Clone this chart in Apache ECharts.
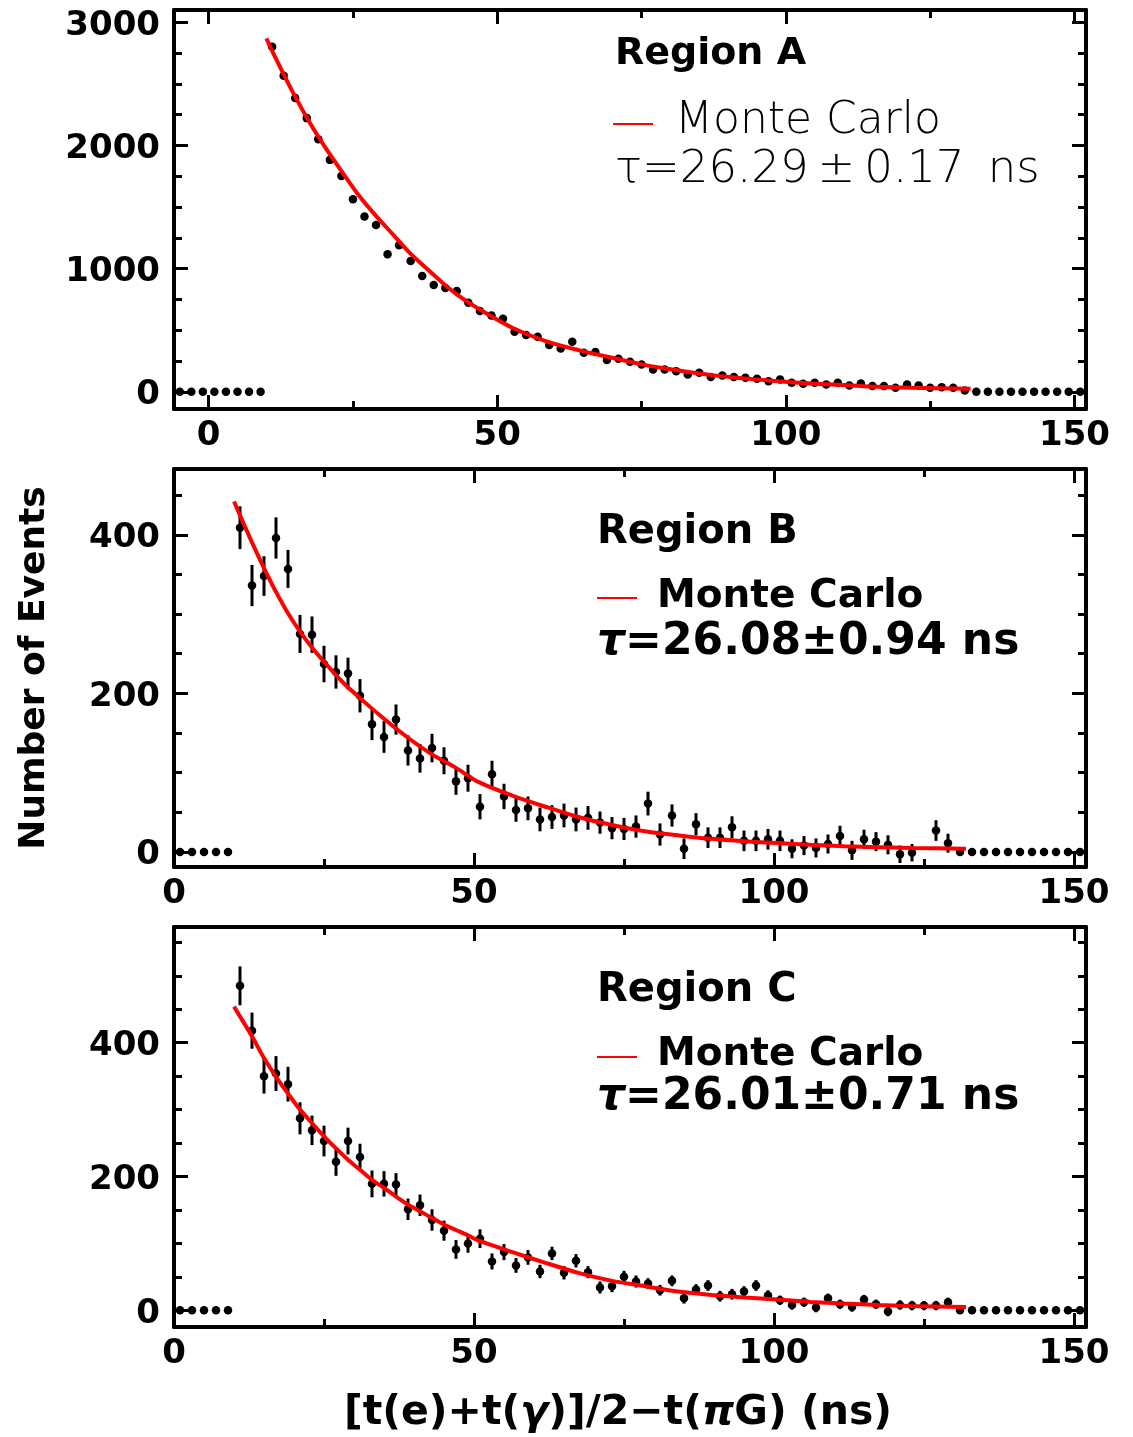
<!DOCTYPE html>
<html><head><meta charset="utf-8">
<script src="https://cdn.jsdelivr.net/npm/echarts@6/dist/echarts.min.js"></script>
<style>html,body{margin:0;padding:0;background:#fff}#c{width:1133px;height:1437px}</style>
</head><body><div id="c"></div>
<script>
// ---------- DATA ----------
const binsA = [-5,-3,-1,1,3,5,7,9,
  11,13,15,17,19,21,23,25,27,29,
  31,33,35,37,39,41,43,45,47,49,
  51,53,55,57,59,61,63,65,67,69,
  71,73,75,77,79,81,83,85,87,89,
  91,93,95,97,99,101,103,105,107,109,
  111,113,115,117,119,121,123,125,127,129,
  131,133,135,137,139,141,143,145,147,149,151];
const countsA = [0,0,0,0,0,0,0,0,
  2802,2566,2385,2222,2051,1883,1753,1563,1423,1355,
  1116,1189,1062,940,867,842,818,723,655,620,
  593,488,460,447,379,352,406,317,322,257,
  268,244,222,181,181,167,141,154,119,133,
  119,114,106,86,100,73,65,73,59,73,
  51,67,46,46,33,59,51,33,37,33,
  10,0,0,0,0,0,0,0,0,0,0];

const binsBC = [1,3,5,7,9,
  11,13,15,17,19,21,23,25,27,29,
  31,33,35,37,39,41,43,45,47,49,
  51,53,55,57,59,61,63,65,67,69,
  71,73,75,77,79,81,83,85,87,89,
  91,93,95,97,99,101,103,105,107,109,
  111,113,115,117,119,121,123,125,127,129,
  131,133,135,137,139,141,143,145,147,149,151];
const countsB = [0,0,0,0,0,
  409,336,348,396,357,275,274,237,227,225,
  197,161,145,167,128,118,131,115,89,93,
  57,98,70,53,55,41,44,46,41,43,
  37,30,29,32,61,22,46,4,35,18,
  18,31,14,14,16,14,4,8,5,10,
  20,2,16,13,9,-3,-1,null,27,11,
  0,0,0,0,0,0,0,0,0,0,0];
const errB = [0,0,0,0,0,
  27,26,25,26,24,24,23,23,21,20,
  21,20,20,19,19,18,18,17,17,17,
  16,17,16,15,15,15,15,15,15,15,
  14,14,14,14,15,14,14,13,14,13,
  13,14,13,13,13,13,12,12,12,12,
  13,12,12,12,12,11,11,0,13,12,
  0,0,0,0,0,0,0,0,0,0,0];
const countsC = [0,0,0,0,0,
  485,418,350,354,338,287,269,253,222,253,
  229,189,189,188,151,157,135,119,91,100,
  107,73,87,67,79,58,85,56,74,57,
  34,36,50,43,40,30,44,18,31,37,
  21,24,28,37,22,15,8,12,4,18,
  9,5,16,9,-2,8,7,7,7,12,
  0,0,0,0,0,0,0,0,0,0,0];
const errC = [0,0,0,0,0,
  29,27,26,26,26,24,22,23,21,20,
  20,20,19,17,16,16,16,15,14,14,
  14,12,12,11,11,10,10,10,10,9,
  9,9,9,9,8,8,8,8,8,8,
  8,8,8,8,8,7,7,7,7,7,
  7,7,7,7,7,7,7,7,7,7,
  0,0,0,0,0,0,0,0,0,0,0];

// Monte Carlo curves
const fitAx = [10,11.7,14.6,17.5,20.4,23.2,26.1,29,31.9,34.8,37.6,40.5,43.4,46.9,52.6,58.4,64.1,69.9,75.7,81.4,87.2,92.9,98.7,104.5,110.2,116,121.7,132];
const fitAy = [2870,2701,2431,2187,1970,1780,1590,1428,1279,1130,1008,886,777,670,520,412,338,276,216,173,135,108,86,67,54,40,32,24];
const fitBx = [10,12.9,15,17,19,21,23,25,28,31,35,39,43,47,50.8,56.4,61.9,67.4,73,78.5,84,89.6,95.1,100.6,106.1,111.7,117.2,122.7,132];
const fitBy = [442,392,358,328,301,278,258,240,215,194,168,144,123,106,88,71,57,44,34,26,21,16.5,13.5,11.3,9,7.2,6,5,4];
const fitCx = [10,12.9,15,17,19,21,23,25,27,29,31,33,35,37,39,41,43,45,47,49,50.8,56.4,61.9,67.4,73,78.5,84,89.6,95.1,100.6,106.1,111.7,117.2,122.7,132];
const fitCy = [454,411,377,349,324,300,280,260,242,225,210,195,183,170,158,148,138,128,120,112,104,87,71,56,44,36,28,23,19,16,12.5,10,8,6.5,5];

// tick values
const xMajor = [0,50,100,150];
const xMinor = [25,75,125];
const yMajorA = [0,1000,2000,3000];
const yMinorA = [250,500,750,1250,1500,1750,2250,2500,2750];
const yMajorBC = [0,200,400];
const yMinorB = [50,100,150,250,300,350,450];
const yMinorC = [50,100,150,250,300,350,450,500,550];

// ---------- CHART ----------
const FONT = 'DejaVu Sans';
const chart = echarts.init(document.getElementById('c'), null, {renderer:'canvas'});

const grids = [
  {left:174, top:10, width:912, height:399},
  {left:174, top:469, width:912, height:398},
  {left:174, top:927, width:912, height:400}
];
const xRanges = [[-6,152],[0,152],[0,152]];
const yRanges = [[-140,3100],[-19,483],[-25,573]];
const yMajors = [yMajorA, yMajorBC, yMajorBC];
const yMinors = [yMinorA, yMinorB, yMinorC];

const labelStyle = {color:'#000', fontFamily:FONT, fontWeight:'bold', fontSize:34};
const xAxes = [], yAxes = [];
function axisDef(kind, gi, pos, ticks, len, showLine, showLabel, range){
  let label = {show:false};
  if (showLabel) {
    if (kind === 'x') {
      label = Object.assign({show:true, customValues:ticks, margin:10, formatter:v=>String(v)}, labelStyle);
    } else {
      label = Object.assign({show:true, customValues:ticks, margin:14,
        formatter:v=>'{d|' + v + '}',
        rich:{d:Object.assign({padding:[7,0,0,0]}, labelStyle)}}, labelStyle);
    }
  }
  return {
    type:'value', gridIndex:gi, position:pos, min:range[0], max:range[1],
    axisLine:{show:showLine, onZero:false, lineStyle:{color:'#000', width:4}},
    axisTick:{show:true, inside:true, length:len, customValues:ticks, lineStyle:{color:'#000', width:3}},
    axisLabel: label,
    splitLine:{show:false}
  };
}
for (let g=0; g<3; g++){
  xAxes.push(axisDef('x', g, 'bottom', xMajor, 14, true, true, xRanges[g]));
  xAxes.push(axisDef('x', g, 'bottom', xMinor, 8, false, false, xRanges[g]));
  xAxes.push(axisDef('x', g, 'top', xMajor, 14, true, false, xRanges[g]));
  xAxes.push(axisDef('x', g, 'top', xMinor, 8, false, false, xRanges[g]));
  yAxes.push(axisDef('y', g, 'left', yMajors[g], 14, true, true, yRanges[g]));
  yAxes.push(axisDef('y', g, 'left', yMinors[g], 8, false, false, yRanges[g]));
  yAxes.push(axisDef('y', g, 'right', yMajors[g], 14, true, false, yRanges[g]));
  yAxes.push(axisDef('y', g, 'right', yMinors[g], 8, false, false, yRanges[g]));
}

const panels = [
  {bins:binsA, counts:countsA, errs:null, fx:fitAx, fy:fitAy},
  {bins:binsBC, counts:countsB, errs:errB, fx:fitBx, fy:fitBy},
  {bins:binsBC, counts:countsC, errs:errC, fx:fitCx, fy:fitCy}
];
const series = [];
panels.forEach((p, g) => {
  const ax = g*4;
  if (p.errs){
    series.push({
      type:'custom', xAxisIndex:ax, yAxisIndex:ax, z:2, silent:true,
      data: p.bins.map((b,k)=>[b, p.counts[k], p.errs[k]]).filter(d=>d[1]!=null && d[2]>0),
      encode:{x:0, y:1},
      renderItem:(params, api)=>{
        const x=api.value(0), v=api.value(1), e=api.value(2);
        const a=api.coord([x, v-e]), b=api.coord([x, v+e]);
        return {type:'line', shape:{x1:a[0], y1:a[1], x2:b[0], y2:b[1]}, style:{stroke:'#000', lineWidth:3}};
      }
    });
  }
  series.push({
    type:'scatter', xAxisIndex:ax, yAxisIndex:ax, z:3, symbol:'circle', symbolSize:8.5,
    itemStyle:{color:'#000', opacity:1},
    data: p.bins.map((b,k)=>[b, p.counts[k]]).filter(d=>d[1]!=null)
  });
  series.push({
    type:'line', xAxisIndex:ax, yAxisIndex:ax, z:4, showSymbol:false, smooth:0.3,
    lineStyle:{color:'#ff0000', width:4},
    data: p.fx.map((x,k)=>[x, p.fy[k]])
  });
});

function txt(x, y, text, size, weight, extra){
  return Object.assign({type:'text', x:x, y:y, z:10, style:Object.assign({
    text:text, fill:'#000', fontFamily:FONT, fontSize:size, fontWeight:weight,
    align:'left', verticalAlign:'middle'}, extra||{})});
}
function redLine(x1, x2, y){
  return {type:'line', z:10, shape:{x1:x1, y1:y, x2:x2, y2:y}, style:{stroke:'#ff0000', lineWidth:2}};
}
const graphic = [
  // Region A
  txt(615, 54, 'Region A', 38, 'bold'),
  redLine(613, 653, 124),
  txt(675, 122, 'Monte Carlo', 44, 200),
  txt(615, 170, 'τ=26.29\u2009±\u20090.17\u2009 ns', 45, 200),
  // Region B
  txt(597, 533, 'Region B', 40, 'bold'),
  redLine(597, 637, 598),
  txt(657, 597, 'Monte Carlo', 39, 'bold'),
  txt(597, 643, '{t|τ}=26.08±0.94 ns', 44, 'bold', {rich:{t:{fontStyle:'italic', fontFamily:FONT, fontSize:44, fontWeight:'bold'}}}),
  // Region C
  txt(597, 991, 'Region C', 40, 'bold'),
  redLine(597, 637, 1057),
  txt(657, 1055, 'Monte Carlo', 39, 'bold'),
  txt(597, 1098, '{t|τ}=26.01±0.71 ns', 44, 'bold', {rich:{t:{fontStyle:'italic', fontFamily:FONT, fontSize:44, fontWeight:'bold'}}}),
  // axis titles
  {type:'text', x:35, y:668, rotation:Math.PI/2, z:10, style:{text:'Number of Events', fill:'#000', fontFamily:FONT, fontSize:36, fontWeight:'bold', align:'center', verticalAlign:'middle'}},
  {type:'text', x:618, y:1413, z:10, style:{text:'[t(e)+t({g|γ})]/2−t({g|π}G) (ns)', fill:'#000', fontFamily:FONT, fontSize:41, fontWeight:'bold', align:'center', verticalAlign:'middle',
    rich:{g:{fontStyle:'italic', fontFamily:FONT, fontSize:41, fontWeight:'bold'}}}}
];

chart.setOption({
  animation:false,
  backgroundColor:'#fff',
  grid: grids.map(g=>Object.assign({outerBoundsMode:'none', containLabel:false}, g)),
  xAxis: xAxes,
  yAxis: yAxes,
  series: series,
  graphic: graphic
});
</script>
</body></html>
